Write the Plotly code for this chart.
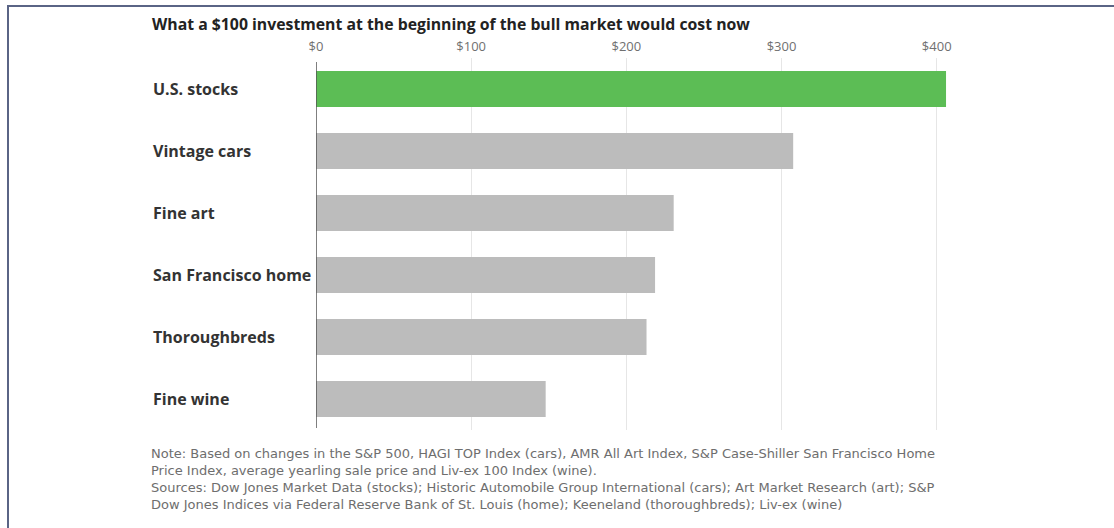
import plotly.graph_objects as go

categories = ["U.S. stocks", "Vintage cars", "Fine art", "San Francisco home", "Thoroughbreds", "Fine wine"]
values = [406, 307.5, 230.5, 218.5, 213, 148]
bar_colors = ["#5cbd55", "#bcbcbc", "#bcbcbc", "#bcbcbc", "#bcbcbc", "#bcbcbc"]
tick_vals = [0, 100, 200, 300, 400]
tick_text = ["$0", "$100", "$200", "$300", "$400"]

title_text = "What a $100 investment at the beginning of the bull market would cost now"
note_lines = [
    "Note: Based on changes in the S&P 500, HAGI TOP Index (cars), AMR All Art Index, S&P Case-Shiller San Francisco Home",
    "Price Index, average yearling sale price and Liv-ex 100 Index (wine).",
    "Sources: Dow Jones Market Data (stocks); Historic Automobile Group International (cars); Art Market Research (art); S&P",
    "Dow Jones Indices via Federal Reserve Bank of St. Louis (home); Keeneland (thoroughbreds); Liv-ex (wine)",
]

W, H = 1114, 528
ML, MR, MT, MB = 316, 154, 58, 98
pw = W - ML - MR
ph = H - MT - MB


def px_x(x):
    return (x - ML) / pw


def px_y(y):
    return (H - MB - y) / ph


fig = go.Figure(go.Bar(
    x=values, y=categories, orientation="h",
    marker=dict(color=bar_colors, line=dict(width=0)),
    width=0.58, hoverinfo="skip",
))

fig.update_xaxes(
    range=[0, 415], side="top", tickvals=tick_vals, ticktext=tick_text,
    showgrid=True, gridcolor="#e6e6e6", gridwidth=1, zeroline=False,
    showline=False, ticks="", ticklabelstandoff=3,
    tickfont=dict(family="Open Sans", size=13, color="#707070"),
)
fig.update_yaxes(
    categoryorder="array", categoryarray=categories[::-1],
    showticklabels=False, showgrid=False, zeroline=False, showline=False, ticks="",
)

shapes = [
    dict(type="line", xref="x", yref="paper", x0=0, x1=0, y0=px_y(428), y1=px_y(62),
         line=dict(color="#555555", width=1.5)),
    dict(type="rect", xref="paper", yref="paper", x0=px_x(8), x1=px_x(W + 10),
         y0=px_y(H + 10), y1=px_y(6), line=dict(color="#5a6485", width=2),
         fillcolor="rgba(0,0,0,0)", layer="above"),
]

annotations = []
for c in categories:
    annotations.append(dict(
        x=px_x(151), xref="paper", y=c, yref="y", text=c, showarrow=False,
        xanchor="left", yanchor="middle",
        font=dict(family="Open Sans", size=16, color="#333333", weight=700),
    ))
annotations.append(dict(
    x=px_x(150), xref="paper", y=px_y(24), yref="paper",
    text=title_text, showarrow=False, xanchor="left", yanchor="middle",
    font=dict(family="Open Sans", size=15.8, color="#222222", weight=700),
))
annotations.append(dict(
    x=px_x(149), xref="paper", y=px_y(479), yref="paper",
    text="<br>".join(note_lines), showarrow=False, xanchor="left", yanchor="middle", align="left",
    font=dict(family="DejaVu Sans", size=13, color="#6e6e6e"),
))

fig.update_layout(
    width=W, height=H, margin=dict(l=ML, r=MR, t=MT, b=MB),
    paper_bgcolor="white", plot_bgcolor="white", showlegend=False,
    shapes=shapes, annotations=annotations, bargap=0.42,
)

fig.write_html("out.html", config={"displayModeBar": False},
               post_script="document.body.style.margin='0px';document.body.style.overflow='hidden';")
